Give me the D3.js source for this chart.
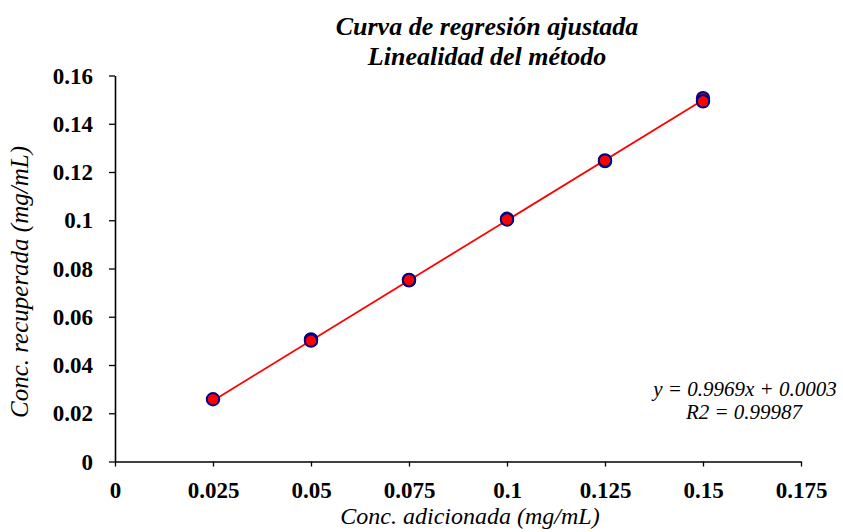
<!DOCTYPE html>
<html>
<head>
<meta charset="utf-8">
<script src="https://cdn.jsdelivr.net/npm/d3@7"></script>
<style>
  html, body { margin: 0; padding: 0; background: #fff; }
  svg { display: block; }
  text { font-family: "Liberation Serif", "Times New Roman", serif; fill: #000; }
</style>
</head>
<body>
<svg id="chart" width="843" height="532"></svg>
<script>
// Added concentration (mg/mL) and recovered concentration (mg/mL)
const added     = [0.025, 0.05, 0.05, 0.075, 0.075, 0.1, 0.1, 0.125, 0.125, 0.15, 0.15];
const recovered = [0.0258, 0.0506, 0.0501, 0.0751, 0.0753, 0.1006, 0.1003, 0.1245, 0.1248, 0.1506, 0.1493];

// Fitted regression line
const slope = 0.9969;
const intercept = 0.0003;
const r2 = 0.99987;

const xTicks = [0, 0.025, 0.05, 0.075, 0.1, 0.125, 0.15, 0.175];
const yTicks = [0, 0.02, 0.04, 0.06, 0.08, 0.1, 0.12, 0.14, 0.16];

const titleLines = ["Curva de regresión ajustada", "Linealidad del método"];
const xLabel = "Conc. adicionada (mg/mL)";
const yLabel = "Conc. recuperada (mg/mL)";

const svg = d3.select("#chart");
const plot = { left: 115, right: 801, top: 75.5, bottom: 461.5 };

const x = d3.scaleLinear().domain([0, 0.175]).range([plot.left, plot.right]);
const y = d3.scaleLinear().domain([0, 0.16]).range([plot.bottom, plot.top]);

// Axes
const xAxis = svg.append("g")
  .attr("transform", `translate(0,${plot.bottom})`)
  .call(d3.axisBottom(x).tickValues(xTicks).tickSize(5).tickSizeOuter(0)
    .tickFormat(d => d3.format("")(+d.toFixed(3))));
const yAxis = svg.append("g")
  .attr("transform", `translate(${plot.left},0)`)
  .call(d3.axisLeft(y).tickValues(yTicks).tickSize(6).tickSizeOuter(0)
    .tickFormat(d => d3.format("")(+d.toFixed(2))));

[xAxis, yAxis].forEach(g => {
  g.select(".domain").attr("stroke", "#000").attr("stroke-width", 1.6);
  g.selectAll(".tick line").attr("stroke", "#000").attr("stroke-width", 1.3);
  g.selectAll(".tick text")
    .attr("font-family", "Liberation Serif, Times New Roman, serif")
    .attr("font-size", 23).attr("font-weight", "bold").attr("fill", "#000");
});
xAxis.selectAll(".tick text").attr("y", 36).attr("dy", 0);
yAxis.selectAll(".tick text").attr("x", -22).attr("dy", "0.33em");

// Regression line across the measured range
const xr = d3.extent(added);
svg.append("line")
  .attr("x1", x(xr[0])).attr("y1", y(slope * xr[0] + intercept))
  .attr("x2", x(xr[1])).attr("y2", y(slope * xr[1] + intercept))
  .attr("stroke", "#ff0000").attr("stroke-width", 1.8);

// Data points
svg.append("g").selectAll("circle")
  .data(added.map((a, i) => [a, recovered[i]]))
  .join("circle")
  .attr("cx", d => x(d[0])).attr("cy", d => y(d[1]))
  .attr("r", 6.2)
  .attr("fill", "#ff0000").attr("stroke", "#000080").attr("stroke-width", 2);

// Titles
svg.append("text")
  .attr("text-anchor", "middle")
  .attr("font-size", 26).attr("font-weight", "bold").attr("font-style", "italic")
  .selectAll("tspan").data(titleLines).join("tspan")
  .attr("x", 487).attr("y", (d, i) => 35 + i * 30)
  .text(d => d);

svg.append("text")
  .attr("x", 470).attr("y", 524)
  .attr("text-anchor", "middle")
  .attr("font-size", 24).attr("font-style", "italic")
  .text(xLabel);

svg.append("text")
  .attr("transform", `translate(28,282) rotate(-90)`)
  .attr("text-anchor", "middle")
  .attr("font-size", 25).attr("font-style", "italic")
  .text(yLabel);

// Equation annotation
const eq = svg.append("text")
  .attr("text-anchor", "middle")
  .attr("font-size", 21).attr("font-style", "italic");
eq.append("tspan").attr("x", 745).attr("y", 396)
  .text(`y = ${slope}x + ${intercept.toFixed(4)}`);
eq.append("tspan").attr("x", 744).attr("y", 419)
  .text(`R2 = ${r2}`);
</script>
</body>
</html>
